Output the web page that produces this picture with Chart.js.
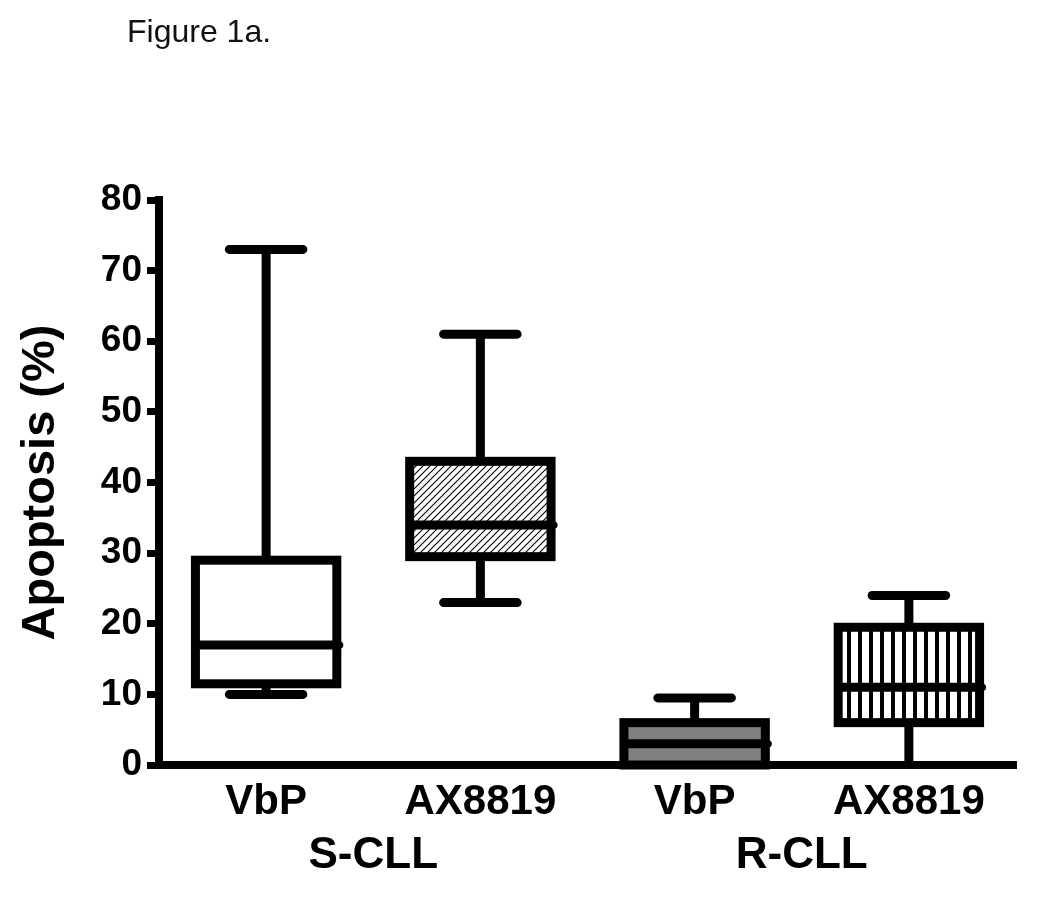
<!DOCTYPE html>
<html>
<head>
<meta charset="utf-8">
<title>Figure 1a</title>
<script src="https://cdn.jsdelivr.net/npm/chart.js@4.4.1/dist/chart.umd.min.js"></script>
<style>
  html, body { margin: 0; padding: 0; background: #fff; }
  #wrap { position: relative; width: 1050px; height: 903px; }
  #figLabel {
    position: absolute; left: 127px; top: 15px;
    font: 32px/32px 'Liberation Sans', Arial, Helvetica, sans-serif; color: #111;
  }
</style>
</head>
<body>
<div id="wrap">
  <div id="figLabel">Figure 1a.</div>
  <canvas id="boxChart" width="1050" height="903"></canvas>
</div>
<script>
// --- data ---
const treatments = ['VbP', 'AX8819', 'VbP', 'AX8819'];
const groups = ['S-CLL', 'R-CLL'];
const whiskerLow = [10, 23, 0, 0];
const q1 = [11.5, 29.5, 0, 6];
const medians = [17, 34, 3, 11];
const q3 = [29, 43, 6, 19.5];
const whiskerHigh = [73, 61, 9.5, 24];
const fillKinds = ['white', 'hatch', 'grey', 'stripes'];

// fill patterns for the boxes
function makeFill(kind) {
  const c = document.createElement('canvas');
  const g = c.getContext('2d');
  if (kind === 'hatch') {
    c.width = c.height = 7;
    g.fillStyle = '#fff'; g.fillRect(0, 0, 7, 7);
    g.strokeStyle = '#000'; g.lineWidth = 1.1;
    g.beginPath();
    g.moveTo(-1, 8); g.lineTo(8, -1);
    g.moveTo(-1, 1); g.lineTo(1, -1);
    g.moveTo(6, 8); g.lineTo(8, 6);
    g.stroke();
    return g.createPattern(c, 'repeat');
  }
  if (kind === 'stripes') {
    c.width = 11; c.height = 4;
    g.fillStyle = '#fff'; g.fillRect(0, 0, 11, 4);
    g.fillStyle = '#000'; g.fillRect(0, 0, 4, 4);
    return g.createPattern(c, 'repeat');
  }
  if (kind === 'grey') return '#808080';
  return '#ffffff';
}

// whiskers under the boxes, outlines + medians on top
const boxPlot = {
  id: 'boxPlot',
  beforeDatasetsDraw(chart) {
    const ctx = chart.ctx, y = chart.scales.y;
    const bars = chart.getDatasetMeta(0).data;
    ctx.save();
    ctx.strokeStyle = '#000';
    bars.forEach((bar, i) => {
      const { x, width } = bar.getProps(['x', 'width'], true);
      const hi = y.getPixelForValue(whiskerHigh[i]);
      const lo = y.getPixelForValue(whiskerLow[i]);
      const top = y.getPixelForValue(q3[i]);
      const bot = y.getPixelForValue(q1[i]);
      const capHalf = width * 0.26;
      ctx.lineWidth = 9;
      ctx.lineCap = 'butt';
      ctx.beginPath();
      ctx.moveTo(x, hi); ctx.lineTo(x, top);
      ctx.moveTo(x, bot); ctx.lineTo(x, lo);
      ctx.stroke();
      ctx.lineCap = 'round';
      ctx.beginPath();
      ctx.moveTo(x - capHalf, hi); ctx.lineTo(x + capHalf, hi);
      if (whiskerLow[i] > 0) { ctx.moveTo(x - capHalf, lo); ctx.lineTo(x + capHalf, lo); }
      ctx.stroke();
    });
    ctx.restore();
  },
  afterDatasetsDraw(chart) {
    const ctx = chart.ctx, y = chart.scales.y;
    const bars = chart.getDatasetMeta(0).data;
    ctx.save();
    ctx.strokeStyle = '#000';
    ctx.fillStyle = '#000';
    bars.forEach((bar, i) => {
      const { x, width } = bar.getProps(['x', 'width'], true);
      const top = y.getPixelForValue(q3[i]);
      const bot = y.getPixelForValue(q1[i]);
      const med = y.getPixelForValue(medians[i]);
      const left = x - width / 2;
      ctx.lineWidth = 9;
      ctx.lineJoin = 'miter';
      ctx.strokeRect(left, top, width, bot - top);
      ctx.beginPath();
      ctx.moveTo(left, med); ctx.lineTo(left + width + 2, med);
      ctx.stroke();
      ctx.beginPath();
      ctx.arc(left + width + 3, med, 3.5, 0, Math.PI * 2);
      ctx.fill();
    });
    ctx.restore();
  }
};

Chart.defaults.font.family = "'Liberation Sans', Arial, Helvetica, sans-serif";
Chart.defaults.color = '#000';

new Chart(document.getElementById('boxChart'), {
  type: 'bar',
  data: {
    labels: treatments,
    datasets: [{
      label: 'Apoptosis',
      data: q1.map((v, i) => [v, q3[i]]),
      backgroundColor: fillKinds.map(makeFill),
      borderWidth: 0,
      barPercentage: 0.66,
      categoryPercentage: 1,
      xAxisID: 'x'
    }]
  },
  options: {
    responsive: false,
    animation: false,
    layout: { padding: { left: 8, top: 200, right: 34, bottom: 0 } },
    plugins: { legend: { display: false }, tooltip: { enabled: false } },
    scales: {
      y: {
        min: 0, max: 80,
        ticks: { stepSize: 10, padding: 5, font: { size: 37, weight: 'bold' } },
        grid: { drawOnChartArea: false, drawTicks: true, tickLength: 12, tickWidth: 7, tickColor: '#000' },
        border: { display: true, width: 8, color: '#000' },
        title: {
          display: true, text: 'Apoptosis (%)', color: '#000',
          font: { size: 47, weight: 'bold' }, padding: { top: 5, bottom: 0 }
        },
        afterFit: s => { s.width = 151; }
      },
      x: {
        position: 'bottom', weight: 0,
        grid: { display: false, drawTicks: false },
        border: { display: true, width: 8, color: '#000' },
        ticks: { autoSkip: false, maxRotation: 0, padding: 12, font: { size: 42, weight: 'bold' } },
        afterFit: s => { s.height = 64; }
      },
      x2: {
        type: 'category', position: 'bottom', weight: 1,
        labels: groups, offset: true,
        grid: { display: false, drawTicks: false },
        border: { display: false },
        ticks: { autoSkip: false, maxRotation: 0, padding: 0, font: { size: 44, weight: 'bold' } },
        afterFit: s => { s.height = 74; }
      }
    }
  },
  plugins: [boxPlot]
});
</script>
</body>
</html>
